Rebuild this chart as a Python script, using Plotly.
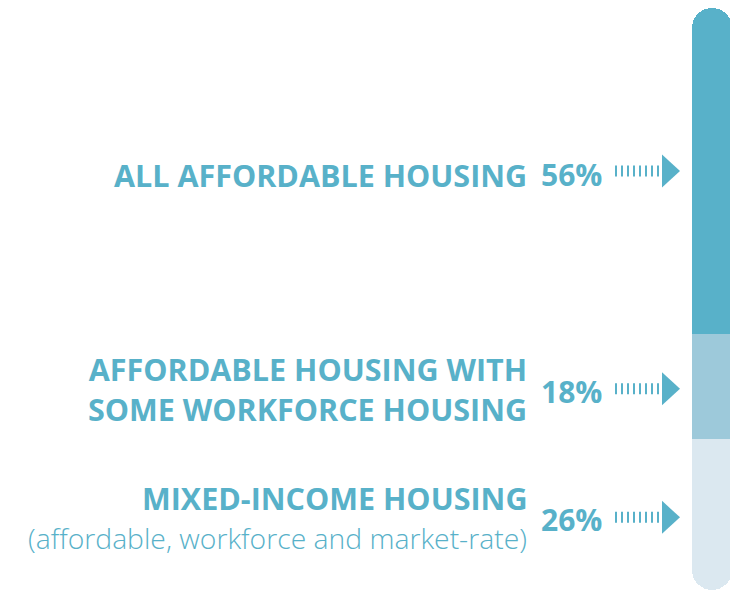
import plotly.graph_objects as go

# ---- data ----
categories = ["ALL AFFORDABLE HOUSING",
              "AFFORDABLE HOUSING WITH<br>SOME WORKFORCE HOUSING",
              "MIXED-INCOME HOUSING"]
subtitles = ["", "", "(affordable, workforce and market-rate)"]
shares = [56, 18, 26]
pct_labels = ["56%", "18%", "26%"]
colors = ["#58b1c9", "#9dc9da", "#dbe8f0"]

TEXT = "#58b1c9"
FONT = "Open Sans"

OFF = 8  # page body margin
W, H = 738 - OFF, 593 - OFF
bar_top_px, bar_bot_px = 8 - OFF, 590 - OFF
bar_left_px, bar_right_px = 692 - OFF, 732 - OFF

top_val, mid_val, low_val = shares
pos_total = top_val + mid_val
neg_total = low_val
span = pos_total + neg_total
ppu = (bar_bot_px - bar_top_px) / span
y_max = pos_total + bar_top_px / ppu
y_min = -neg_total - (H - bar_bot_px) / ppu

xppu = bar_right_px - bar_left_px
x_min = -(bar_left_px + xppu / 2) / xppu
x_max = x_min + W / xppu

def px_to_x(px):
    return x_min + (px - OFF) / xppu

fig = go.Figure()
fig.add_trace(go.Bar(x=[0], y=[-low_val], width=1, marker_color=colors[2],
                     marker_line_width=0, hoverinfo="skip"))
fig.add_trace(go.Bar(x=[0], y=[mid_val], width=1, marker_color=colors[1],
                     marker_line_width=0, hoverinfo="skip"))
fig.add_trace(go.Bar(x=[0], y=[top_val], width=1, marker_color=colors[0],
                     marker_line_width=0, hoverinfo="skip"))

mids = [mid_val + top_val / 2, mid_val / 2, -low_val / 2]
arrow_px_offset = [0, 2.5, 3]  # small downward nudges, in pixels

stripe_x0, stripe_x1 = px_to_x(615), px_to_x(662)
tip_x = px_to_x(680)

for m, off in zip(mids, arrow_px_offset):
    ya = m - off / ppu
    fig.add_trace(go.Scatter(x=[stripe_x0, stripe_x1], y=[ya, ya], mode="lines",
                             line=dict(color=TEXT, width=11, dash="2px,4px"),
                             hoverinfo="skip"))
    fig.add_shape(type="path", xref="x", yref="y", xsizemode="pixel",
                  ysizemode="pixel", xanchor=tip_x, yanchor=ya,
                  path="M-18,-16.5 L0,0 L-18,16.5 Z",
                  fillcolor=TEXT, line_width=0)

label_x = px_to_x(529)
pct_x = px_to_x(539)

fig.add_annotation(x=label_x, y=mids[0], yshift=-4, text=categories[0],
                   xanchor="right", yanchor="middle", showarrow=False,
                   font=dict(family=FONT, size=30.5, color=TEXT, weight=700))
fig.add_annotation(x=label_x, y=mids[1], yshift=-3, text=categories[1],
                   xanchor="right", yanchor="middle", showarrow=False, align="right",
                   font=dict(family=FONT, size=30.5, color=TEXT, weight=700))
fig.add_annotation(x=label_x, y=mids[2], yshift=16, text=categories[2],
                   xanchor="right", yanchor="middle", showarrow=False,
                   font=dict(family=FONT, size=30.5, color=TEXT, weight=700))
fig.add_annotation(x=label_x, y=mids[2], yshift=-24, text=subtitles[2],
                   xanchor="right", yanchor="middle", showarrow=False,
                   font=dict(family=FONT, size=28.3, color=TEXT, weight=300))

for m, p, ys in zip(mids, pct_labels, [-4, -5, -5]):
    fig.add_annotation(x=pct_x, y=m, yshift=ys, text=p, xanchor="left",
                       yanchor="middle", showarrow=False,
                       font=dict(family=FONT, size=30, color=TEXT, weight=700))

fig.update_layout(
    width=W, height=H,
    margin=dict(l=0, r=0, t=0, b=0),
    barmode="relative", barcornerradius=20, bargap=0,
    showlegend=False,
    paper_bgcolor="white", plot_bgcolor="white",
    xaxis=dict(range=[x_min, x_max], visible=False, fixedrange=True),
    yaxis=dict(range=[y_min, y_max], visible=False, fixedrange=True),
)

fig.write_html("out.html")
